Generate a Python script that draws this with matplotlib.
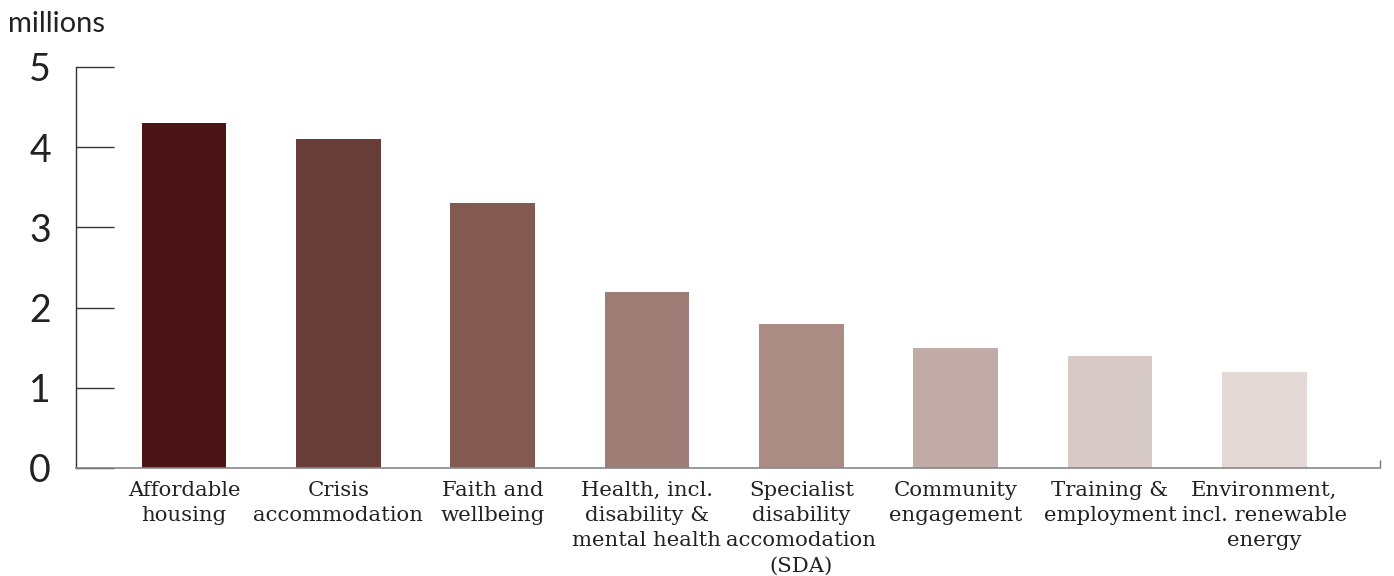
"""
Funding by category, bar chart
"""

import matplotlib as mpl
import matplotlib.pyplot as plt
import numpy as np

CATEGORIES = [
    "Affordable\nhousing",
    "Crisis\naccommodation",
    "Faith and\nwellbeing",
    "Health, incl.\ndisability &\nmental health",
    "Specialist\ndisability\naccomodation\n(SDA)",
    "Community\nengagement",
    "Training &\nemployment",
    "Environment,\nincl. renewable\nenergy",
]
VALUES = [4.3, 4.1, 3.3, 2.2, 1.8, 1.5, 1.4, 1.2]
Y_TICKS = [0, 1, 2, 3, 4, 5]

COLORS = ["#4B1518", "#683C38", "#825A51", "#9C7C74",
          "#AB8C85", "#C1ABA6", "#D7C9C5", "#E3D9D6"]

SANS = ["Lato", "DejaVu Sans"]
SERIF = ["DejaVu Serif"]

mpl.rcParams["font.family"] = SANS

fig = plt.figure(figsize=(13.94, 5.76), dpi=100)
ax = fig.add_axes([0.0545, 0.1875, 0.9355, 0.6962])

x = np.arange(len(CATEGORIES))
ax.bar(x, VALUES, width=0.55, color=COLORS)

ax.set_xlim(-0.70, 7.75)
ax.set_ylim(0, 5)

ax.set_yticks(Y_TICKS)
ax.set_yticklabels([str(t) for t in Y_TICKS], fontsize=27, color="#222222")
ax.tick_params(axis="y", direction="in", length=27, width=1.0,
               color="#333333", pad=18)

ax.set_xticks(x)
ax.set_xticklabels(CATEGORIES, fontsize=15.3, family=SERIF,
                   color="#222222", linespacing=1.42)
ax.tick_params(axis="x", length=0, pad=9)
# little end mark on the right of the baseline
ax.set_xticks([7.75], minor=True)
ax.tick_params(axis="x", which="minor", direction="in", length=6,
               width=1.0, color="#777777")

for side in ["top", "right"]:
    ax.spines[side].set_visible(False)
ax.spines["left"].set_color("#333333")
ax.spines["bottom"].set_color("#888888")
ax.spines["left"].set_linewidth(1.0)
ax.spines["bottom"].set_linewidth(1.2)

fig.text(0.006, 0.958, "millions", fontsize=21, color="#222222",
         ha="left", va="center")

plt.savefig("out.png", dpi=100)
